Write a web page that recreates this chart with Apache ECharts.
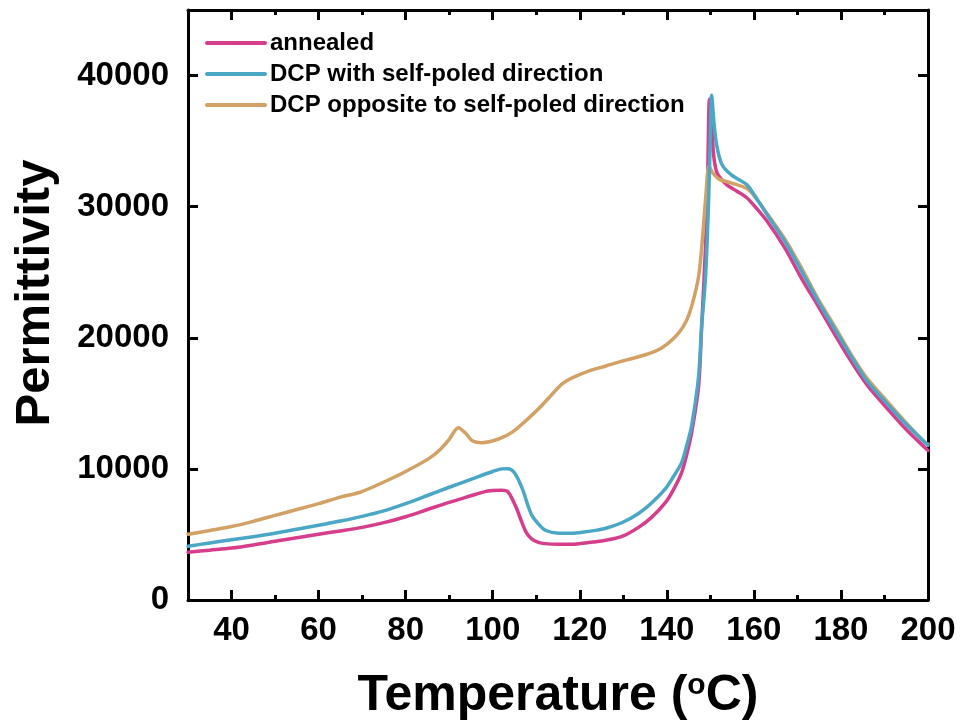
<!DOCTYPE html>
<html>
<head>
<meta charset="utf-8">
<script src="https://cdn.jsdelivr.net/npm/echarts@6/dist/echarts.min.js"></script>
<style>
  html, body { margin: 0; padding: 0; background: #fff; }
  #chart { width: 962px; height: 726px; }
</style>
</head>
<body>
<div id="chart"></div>
<script>
// Temperature (°C) / permittivity readings for each sample
const annealedT = [30, 35, 40, 45, 50, 55, 60, 65, 70, 75, 80, 85, 90, 95, 98, 100, 102, 103.5, 105.4, 106.5, 107.7, 109, 110.5, 112, 115, 118, 120, 123, 126, 130, 133.5, 136.5, 139.7, 141.5, 143.4, 144.5, 145.7, 147.3, 148, 148.9, 149.4, 149.8, 150.3, 150.8, 151.5, 152.5, 154, 156, 158.3, 160, 163, 167.2, 171, 174.8, 178.5, 182.3, 186, 190.1, 195, 200];
const annealedP = [3640, 3800, 3960, 4200, 4480, 4750, 5020, 5270, 5540, 5900, 6350, 6900, 7450, 7950, 8250, 8350, 8380, 8250, 7060, 6100, 5160, 4650, 4400, 4300, 4250, 4250, 4300, 4420, 4560, 4900, 5540, 6300, 7440, 8400, 9720, 11000, 12760, 16320, 20880, 27000, 32500, 38200, 36200, 33800, 32600, 32100, 31600, 31200, 30700, 30100, 28900, 26800, 24500, 22400, 20300, 18220, 16400, 14800, 13000, 11400];

const selfPoledT = [30, 35, 40, 45, 50, 55, 60, 65, 70, 75, 80, 85, 90, 95, 100, 102, 103.5, 105, 106.8, 108, 109, 110.5, 112.2, 115.2, 118.2, 121, 124, 126, 130, 133.5, 136.5, 139.7, 141.5, 143.4, 144.5, 145.7, 147.3, 148, 148.9, 149.6, 150, 150.3, 150.8, 151.4, 152.6, 154.9, 158.3, 160, 163, 167.2, 171, 174.8, 178.5, 182.3, 186, 190.1, 195, 200];
const selfPoledP = [4100, 4350, 4600, 4830, 5090, 5400, 5700, 6020, 6380, 6800, 7350, 7970, 8600, 9200, 9800, 10000, 10020, 9700, 8500, 7300, 6450, 5800, 5300, 5100, 5090, 5180, 5330, 5470, 5950, 6600, 7400, 8500, 9400, 10480, 11700, 13290, 17080, 20880, 24680, 30500, 35500, 38500, 36500, 34800, 33260, 32400, 31700, 30950, 29400, 27300, 25050, 22750, 20700, 18600, 16700, 15150, 13400, 11800];

const oppositeT = [30, 35, 40, 45, 50, 55, 60, 65, 69.4, 75, 80, 85.4, 88, 90, 92.1, 93.9, 95.3, 97.6, 101.5, 104.5, 107.7, 110.6, 114.5, 116, 118, 122, 126, 129.7, 133.5, 137.4, 140, 142.7, 144.5, 145.7, 147.3, 148.3, 149, 149.7, 150.5, 151.9, 154.9, 158.3, 160, 163, 167.2, 171, 174.8, 178.5, 182.3, 186, 190.1, 195, 199.3, 200];
const oppositeP = [5010, 5300, 5600, 6000, 6450, 6900, 7350, 7850, 8200, 9000, 9800, 10800, 11500, 12250, 13140, 12680, 12150, 12000, 12300, 12800, 13700, 14600, 16000, 16500, 16900, 17460, 17850, 18220, 18550, 18980, 19500, 20350, 21300, 22400, 24680, 28000, 31000, 33100, 32600, 32120, 31800, 31400, 30850, 29500, 27490, 25300, 22930, 20900, 18750, 16900, 15340, 13500, 12000, 11900];

const seriesNames = ['annealed', 'DCP with self-poled direction', 'DCP opposite to self-poled direction'];
const seriesColors = ['#d63d8b', '#4aa7c5', '#d3a165'];

const majorX = [40, 60, 80, 100, 120, 140, 160, 180, 200];

const pairs = (xs, ys) => xs.map((x, i) => [x, ys[i]]);
const seriesData = [
  pairs(annealedT, annealedP),
  pairs(selfPoledT, selfPoledP),
  pairs(oppositeT, oppositeP)
];

const FONT = '"Liberation Sans", Arial, sans-serif';
const AXIS_LINE = { show: true, onZero: false, lineStyle: { color: '#000', width: 3 } };
const NO_LINE = { show: false, onZero: false };

function xAxisBase(position) {
  return { type: 'value', position: position, min: 30, max: 200, splitLine: { show: false } };
}

const chart = echarts.init(document.getElementById('chart'), null, { renderer: 'canvas' });
chart.setOption({
  animation: false,
  backgroundColor: '#fff',
  grid: { left: 188, right: 34, top: 10, bottom: 121, containLabel: false },
  legend: {
    orient: 'vertical',
    left: 205,
    top: 30,
    padding: 0,
    itemWidth: 58,
    itemHeight: 4,
    itemGap: 5,
    data: seriesNames,
    textStyle: { fontFamily: FONT, fontWeight: 'bold', fontSize: 24, color: '#000', lineHeight: 26 },
    lineStyle: { width: 4 }
  },
  xAxis: [
    Object.assign(xAxisBase('bottom'), {
      interval: 10,
      axisLine: AXIS_LINE,
      axisTick: { show: true, inside: true, length: 5, lineStyle: { color: '#000', width: 3 } },
      axisLabel: { show: false },
      name: '{t|Temperature (}{s|o}{t|C)}',
      nameLocation: 'middle',
      nameGap: 71,
      nameTextStyle: {
        rich: {
          t: { fontFamily: FONT, fontWeight: 'bold', fontSize: 50, color: '#000' },
          s: { fontFamily: FONT, fontWeight: 'bold', fontSize: 30, color: '#000', verticalAlign: 'top', padding: [0, 0, 18, 0] }
        }
      }
    }),
    Object.assign(xAxisBase('bottom'), {
      axisLine: NO_LINE,
      axisTick: { show: true, inside: true, length: 10, customValues: majorX, lineStyle: { color: '#000', width: 3 } },
      axisLabel: { show: true, customValues: majorX, margin: 14, fontFamily: FONT, fontWeight: 'bold', fontSize: 33, color: '#000' }
    }),
    Object.assign(xAxisBase('top'), {
      interval: 10,
      axisLine: AXIS_LINE,
      axisTick: { show: true, inside: true, length: 5, lineStyle: { color: '#000', width: 3 } },
      axisLabel: { show: false }
    }),
    Object.assign(xAxisBase('top'), {
      axisLine: NO_LINE,
      axisTick: { show: true, inside: true, length: 10, customValues: majorX, lineStyle: { color: '#000', width: 3 } },
      axisLabel: { show: false }
    })
  ],
  yAxis: [
    {
      type: 'value', position: 'left', min: 0, max: 45000, interval: 10000,
      splitLine: { show: false },
      axisLine: AXIS_LINE,
      axisTick: { show: true, inside: true, length: 10, lineStyle: { color: '#000', width: 3 } },
      axisLabel: {
        showMaxLabel: false, margin: 19,
        formatter: v => String(v),
        fontFamily: FONT, fontWeight: 'bold', fontSize: 33, color: '#000'
      },
      name: 'Permittivity',
      nameLocation: 'middle',
      nameGap: 128,
      nameTextStyle: { fontFamily: FONT, fontWeight: 'bold', fontSize: 49, color: '#000', padding: [0, 0, 0, 24] }
    },
    {
      type: 'value', position: 'right', min: 0, max: 45000, interval: 10000,
      splitLine: { show: false },
      axisLine: AXIS_LINE,
      axisTick: { show: true, inside: true, length: 10, lineStyle: { color: '#000', width: 3 } },
      axisLabel: { show: false }
    }
  ],
  series: seriesNames.map((name, i) => ({
    name: name,
    type: 'line',
    xAxisIndex: 0,
    yAxisIndex: 0,
    data: seriesData[i],
    symbol: 'none',
    smooth: 0.3,
    color: seriesColors[i],
    lineStyle: { color: seriesColors[i], width: 3.5, join: 'round', cap: 'round' },
    z: 3 + (i === 1 ? 1 : 0)
  }))
});
</script>
</body>
</html>
